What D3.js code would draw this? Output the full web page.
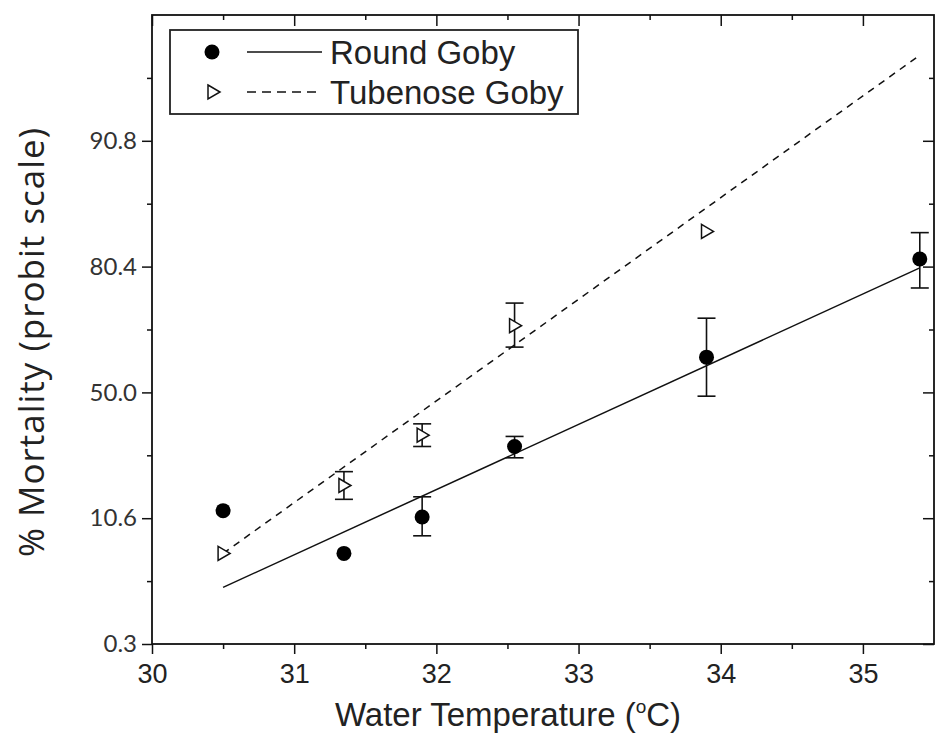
<!DOCTYPE html>
<html>
<head>
<meta charset="utf-8">
<script src="https://cdn.jsdelivr.net/npm/d3@7"></script>
<style>
  body { margin: 0; background: #fff; }
  svg { display: block; }
</style>
</head>
<body>
<div id="chart"></div>
<script>
// axis ticks
const xTicks = [30, 31, 32, 33, 34, 35];
const yTickPos = [0, 1, 2, 3, 4];              // probit axis positions
const yTickLabels = ["0.3", "10.6", "50.0", "80.4", "90.8"];

// Round Goby (points + error bars, in probit axis units)
const roundTemps = [30.5, 31.35, 31.9, 32.55, 33.9, 35.4];
const roundGoby = [1.06, 0.72, 1.01, 1.57, 2.28, 3.06];
const roundLow = [null, null, 0.86, 1.48, 1.97, 2.83];
const roundHigh = [null, null, 1.17, 1.65, 2.59, 3.27];

// Tubenose Goby
const tubeTemps = [30.5, 31.35, 31.9, 32.55, 33.9];
const tubenoseGoby = [0.72, 1.26, 1.66, 2.53, 3.28];
const tubeLow = [null, 1.15, 1.57, 2.36, null];
const tubeHigh = [null, 1.37, 1.75, 2.71, null];

// fitted lines (end points)
const fitTemps = [30.5, 35.4];
const roundFit = [0.45, 2.99];
const tubeFit = [0.72, 4.68];

const W = 935, H = 740;
const plot = { left: 152, right: 934, top: 15, bottom: 644 };

const svg = d3.select("#chart").append("svg")
  .attr("width", W).attr("height", H);

const x = d3.scaleLinear().domain([30, 35.5]).range([plot.left, plot.right]);
const y = d3.scaleLinear().domain([0, 5]).range([plot.bottom, plot.top]);

const xMinor = d3.range(30.5, 35.5, 1);
const yMinor = d3.range(0.5, 5, 1);

function styleAxis(g) {
  g.select(".domain").remove();
  g.selectAll(".tick line").attr("stroke", "#111").attr("stroke-width", 1.5);
}

// bottom axis - major ticks with labels
svg.append("g")
  .attr("transform", `translate(0,${plot.bottom})`)
  .call(d3.axisBottom(x).tickValues(xTicks).tickSize(10).tickPadding(10).tickFormat(d3.format("d")))
  .call(styleAxis)
  .call(g => g.selectAll("text")
    .style("font-family", "'Liberation Sans', Arial, sans-serif")
    .style("font-size", "27px").attr("fill", "#222"));
svg.append("g")
  .attr("transform", `translate(0,${plot.bottom})`)
  .call(d3.axisBottom(x).tickValues(xMinor).tickSize(5).tickFormat(""))
  .call(styleAxis);

// top axis - inward ticks
svg.append("g")
  .attr("transform", `translate(0,${plot.top})`)
  .call(d3.axisBottom(x).tickValues(xTicks).tickSize(11).tickFormat(""))
  .call(styleAxis);
svg.append("g")
  .attr("transform", `translate(0,${plot.top})`)
  .call(d3.axisBottom(x).tickValues(xMinor).tickSize(5).tickFormat(""))
  .call(styleAxis);

// left axis
svg.append("g")
  .attr("transform", `translate(${plot.left},0)`)
  .call(d3.axisLeft(y).tickValues(yTickPos).tickSize(10).tickPadding(5)
    .tickFormat((d, i) => yTickLabels[i]))
  .call(styleAxis)
  .call(g => g.selectAll("text")
    .style("font-family", "Lato, 'Open Sans', sans-serif")
    .style("font-size", "24px").attr("fill", "#333"));
svg.append("g")
  .attr("transform", `translate(${plot.left},0)`)
  .call(d3.axisLeft(y).tickValues(yMinor).tickSize(5).tickFormat(""))
  .call(styleAxis);

// right axis - inward ticks
svg.append("g")
  .attr("transform", `translate(${plot.right},0)`)
  .call(d3.axisLeft(y).tickValues(yTickPos).tickSize(11).tickFormat(""))
  .call(styleAxis);
svg.append("g")
  .attr("transform", `translate(${plot.right},0)`)
  .call(d3.axisLeft(y).tickValues(yMinor).tickSize(5).tickFormat(""))
  .call(styleAxis);

// frame
svg.append("rect")
  .attr("x", plot.left).attr("y", plot.top)
  .attr("width", plot.right - plot.left).attr("height", plot.bottom - plot.top)
  .attr("fill", "none").attr("stroke", "#111").attr("stroke-width", 1.8);

// fit lines
const line = d3.line().x(d => x(d[0])).y(d => y(d[1]));
svg.append("path")
  .datum(fitTemps.map((t, i) => [t, roundFit[i]]))
  .attr("d", line).attr("fill", "none")
  .attr("stroke", "#111").attr("stroke-width", 1.5);
svg.append("path")
  .datum(fitTemps.map((t, i) => [t, tubeFit[i]]))
  .attr("d", line).attr("fill", "none")
  .attr("stroke", "#111").attr("stroke-width", 1.5)
  .attr("stroke-dasharray", "7,6");

// error bars
const cap = 9;
function errorBars(temps, lo, hi) {
  const data = temps.map((t, i) => ({ t: t, lo: lo[i], hi: hi[i] })).filter(d => d.lo != null);
  const g = svg.append("g").attr("stroke", "#111").attr("stroke-width", 1.6);
  g.selectAll(".stem").data(data).enter().append("line")
    .attr("x1", d => x(d.t)).attr("x2", d => x(d.t))
    .attr("y1", d => y(d.lo)).attr("y2", d => y(d.hi));
  g.selectAll(".capHi").data(data).enter().append("line")
    .attr("x1", d => x(d.t) - cap).attr("x2", d => x(d.t) + cap)
    .attr("y1", d => y(d.hi)).attr("y2", d => y(d.hi));
  g.selectAll(".capLo").data(data).enter().append("line")
    .attr("x1", d => x(d.t) - cap).attr("x2", d => x(d.t) + cap)
    .attr("y1", d => y(d.lo)).attr("y2", d => y(d.lo));
}
errorBars(roundTemps, roundLow, roundHigh);
errorBars(tubeTemps, tubeLow, tubeHigh);

// markers
const triPath = "M-5,-7L7,0L-5,7Z";
svg.append("g").selectAll("circle")
  .data(roundTemps.map((t, i) => [t, roundGoby[i]]))
  .enter().append("circle")
  .attr("cx", d => x(d[0])).attr("cy", d => y(d[1]))
  .attr("r", 7.5).attr("fill", "#000");
svg.append("g").selectAll("path")
  .data(tubeTemps.map((t, i) => [t, tubenoseGoby[i]]))
  .enter().append("path")
  .attr("d", triPath)
  .attr("transform", d => `translate(${x(d[0])},${y(d[1])})`)
  .attr("fill", "#fff").attr("stroke", "#111").attr("stroke-width", 1.5);

// legend
const legend = svg.append("g");
legend.append("rect")
  .attr("x", 170).attr("y", 30).attr("width", 408).attr("height", 84)
  .attr("fill", "#fff").attr("stroke", "#222").attr("stroke-width", 1.8);
legend.append("circle").attr("cx", 212).attr("cy", 52).attr("r", 7.5).attr("fill", "#000");
legend.append("line").attr("x1", 247).attr("x2", 322).attr("y1", 52).attr("y2", 52)
  .attr("stroke", "#111").attr("stroke-width", 1.5);
legend.append("path").attr("d", triPath).attr("transform", "translate(213,92)")
  .attr("fill", "#fff").attr("stroke", "#111").attr("stroke-width", 1.5);
legend.append("line").attr("x1", 247).attr("x2", 322).attr("y1", 92).attr("y2", 92)
  .attr("stroke", "#111").attr("stroke-width", 1.5).attr("stroke-dasharray", "9,6");
legend.selectAll("text")
  .data(["Round Goby", "Tubenose Goby"])
  .enter().append("text")
  .attr("x", 330).attr("y", (d, i) => 64 + i * 40)
  .style("font-family", "'Liberation Sans', Arial, sans-serif")
  .style("font-size", "33px").attr("fill", "#222")
  .text(d => d);

// axis titles
const xTitle = svg.append("text")
  .attr("x", 508).attr("y", 726).attr("text-anchor", "middle")
  .style("font-family", "'Liberation Sans', Arial, sans-serif")
  .style("font-size", "33px").attr("fill", "#222");
xTitle.append("tspan").text("Water Temperature (");
xTitle.append("tspan").attr("dy", -13).style("font-size", "19px").text("o");
xTitle.append("tspan").attr("dy", 13).text("C)");

svg.append("text")
  .attr("transform", "translate(44,342) rotate(-90)")
  .attr("text-anchor", "middle")
  .style("font-family", "'Open Sans', Lato, sans-serif")
  .style("font-size", "35px").style("letter-spacing", "1px").attr("fill", "#222")
  .text("% Mortality (probit scale)");
</script>
</body>
</html>
